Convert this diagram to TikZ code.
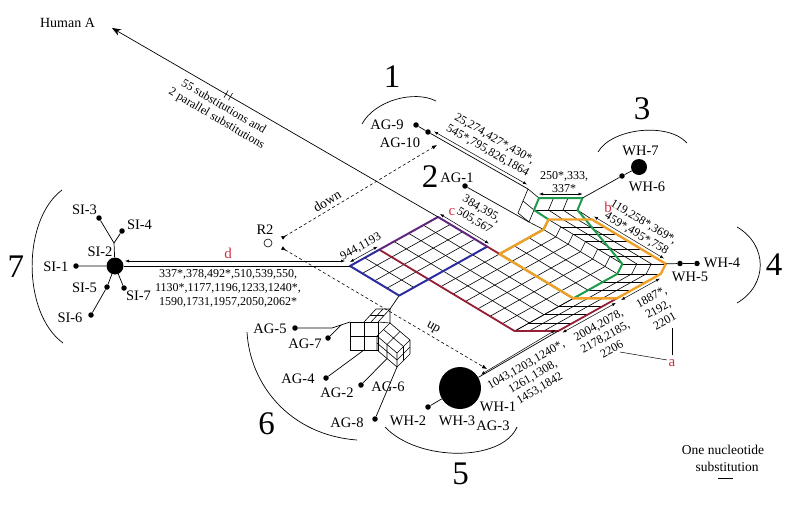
\documentclass[tikz,border=0pt]{standalone}
\usepackage{fontspec}
\setmainfont{Liberation Serif}
\usetikzlibrary{arrows.meta,calc}
\definecolor{netblue}{RGB}{45,45,160}
\definecolor{netpurple}{RGB}{95,40,125}
\definecolor{netred}{RGB}{150,30,55}
\definecolor{netorange}{RGB}{240,160,40}
\definecolor{netgreen}{RGB}{30,155,75}
\definecolor{lblred}{RGB}{205,45,65}
\begin{document}
\begin{tikzpicture}[x=1pt,y=-1pt,
  meshline/.style={line width=0.6pt},
  netedge/.style={line width=0.7pt},
  sdot/.style={circle,fill=black,inner sep=0pt,minimum size=5.5pt},
  lbl/.style={inner sep=0pt,font=\fontsize{14.5}{16}\selectfont},
  nums/.style={inner sep=0pt,align=center,font=\fontsize{12}{13.6}\selectfont},
  bignum/.style={inner sep=0pt,font=\fontsize{33}{36}\selectfont},
  redlbl/.style={inner sep=0pt,text=lblred,font=\fontsize{15}{16}\selectfont},
  subarrow/.style={line width=0.5pt,{Latex[length=4pt,width=3pt]}-{Latex[length=4pt,width=3pt]}},
  grouparc/.style={line width=0.7pt},
  dasharrow/.style={dash pattern=on 3pt off 2.5pt,line width=0.6pt,{Latex[reversed,length=5pt,width=4pt]}-{Latex[length=5pt,width=4pt]}}
]
\useasboundingbox (0,0) rectangle (800,516);

% ---------- key coordinates of the main mesh ----------
\coordinate (L) at (350,266);
\coordinate (U2) at (379.34,249.66);
\coordinate (T) at (438.02,216.98);
\coordinate (B) at (399.2,295.6);
\coordinate (R) at (487.22,246.58);
\coordinate (O1) at (499.52,253.98);
\coordinate (O2) at (543.53,229.47);
\coordinate (O3) at (548.53,219.47);
\coordinate (O4) at (592.03,219.47);
\coordinate (O5) at (665.83,263.87);
\coordinate (O6) at (660.83,273.87);
\coordinate (O7) at (616.82,298.38);
\coordinate (O8) at (573.32,298.38);
\coordinate (A) at (514.64,331.06);
\coordinate (Ah) at (558.14,331.06);
\coordinate (G5) at (622.33,263.87);
\coordinate (G6) at (617.33,273.87);
\coordinate (A0) at (528,189);
\coordinate (TL) at (539,198);
\coordinate (TR) at (582.5,198);
\coordinate (C) at (534,210);
\coordinate (D1) at (577.5,210);
\coordinate (D0) at (523,201);
\coordinate (E) at (529,222);
\coordinate (F) at (518,213);

% ---------- mesh lines ----------
\foreach \i in {0,...,6} {\draw[meshline] ({350+14.67*\i},{266-8.17*\i}) -- ++(49.2,29.6);}
\foreach \j in {0,...,4} {\draw[meshline] ({350+12.3*\j},{266+7.4*\j}) -- ++(88.02,-49.02);}
\foreach \i in {2,...,6} {\draw[meshline] ({399.2+14.67*\i},{295.6-8.17*\i}) -- ++(86.1,51.8);}
\foreach \j in {5,...,11} {\draw[meshline] ({379.34+12.3*\j},{249.66+7.4*\j}) -- ++(102.69,-57.19);}
\foreach \i in {6,...,9} {\draw[meshline] ({411.5+14.67*\i},{303-8.17*\i}) -- ++(73.8,44.4);}
\foreach \c in {0,...,6} {\draw[meshline] ({543.53+12.3*\c},{229.47+7.4*\c}) -- ++(5,-10);}
\foreach \b in {0,...,3} {\draw[meshline] ({548.53+14.5*\b},219.47) -- ++(73.8,44.4);}
\foreach \c in {0,...,6} {\draw[meshline] ({548.53+12.3*\c},{219.47+7.4*\c}) -- ++(43.5,0);}
\foreach \a in {0,...,7} {\draw[meshline] ({514.64+14.67*\a},{331.06-8.17*\a}) -- ++(43.5,0);}
\foreach \b in {0,...,3} {\draw[meshline] ({514.64+14.5*\b},331.06) -- ++(102.69,-57.19);}
\foreach \b in {0,...,3} {\draw[meshline] ({617.33+14.5*\b},273.87) -- ++(5,-10);}
\draw[meshline] (A0) -- (TL) -- (C) -- (D0) -- cycle;
\draw[meshline] (D0) -- (F) -- (E) -- (C);
\draw[meshline] (E) -- (O2);
\draw[meshline] (TL) -- (TR) (C) -- (D1);
\foreach \b in {0,...,3} {\draw[meshline] ({539+14.5*\b},198) -- ++(-5,12);}
\foreach \b in {0,...,3} {\draw[meshline] ({534+14.5*\b},210) -- ++(14.53,9.47);}

% ---------- coloured outlines ----------
\draw[netgreen,line width=2pt,line join=round] (TL) -- (TR) -- (D1) -- (G5) -- (G6) -- (O8) -- (O1) -- (O2) -- (O3) -- (C) -- cycle;
\draw[netred,line width=1.8pt,line join=round] (U2) -- (A) -- (Ah) -- (O7);
\draw[netred,line width=1.8pt] (R) -- (O1);
\draw[netblue,line width=2pt,line join=round] (U2) -- (L) -- (B) -- (R);
\draw[netpurple,line width=2pt,line join=round] (U2) -- (T) -- (R);
\draw[netorange,line width=2.4pt,line join=round] (O1) -- (O2) -- (O3) -- (O4) -- (O5) -- (O6) -- (O7) -- (O8) -- cycle;

% ---------- AG cluster mesh (group 6) ----------
\coordinate (agtop) at (390,309);
\coordinate (agL) at (350,322);
\coordinate (agm) at (364,350);
\coordinate (agK) at (397,367);
\coordinate (agf) at (387,358.5);
\coordinate (ag7c) at (341,325);
\coordinate (ag5c) at (332,328);
\draw[meshline] (350,322) rectangle (378,350);
\draw[meshline] (364,322) -- (364,350) (350,336) -- (378,336);
\draw[meshline] (364,322) -- (376,309) -- (390,309) -- (378,322);
\draw[meshline] (371,322) -- (383,309) (370,315.5) -- (384,315.5);
\draw[meshline] (390,309) -- (390,323) (378,322) -- (390,323);
\draw[meshline] (390,323) -- (410,340) -- (410,354) -- (397,367) -- (377,350) -- (377,336) -- cycle;
\draw[meshline] (377,336) -- (397,353) -- (410,340) (397,353) -- (397,367);
\draw[meshline] (400,331.5) -- (387,344.5) -- (387,358.5) (383.5,329.5) -- (403.5,346.5) -- (403.5,360.5) (410,347) -- (397,360) -- (377,343);
\draw[netedge] (B) -- (agtop);

% ---------- nodes ----------
\node[sdot] (ag9) at (416,125) {};
\node[sdot] (ag10) at (428,132) {};
\node[sdot] (ag1) at (465,186) {};
\node[sdot] (wh6) at (622,176) {};
\node[circle,fill=black,inner sep=0pt,minimum size=16pt] (wh7) at (639,167) {};
\node[sdot] (wh5) at (680,263.5) {};
\node[sdot] (wh4) at (697,263.5) {};
\node[circle,fill=black,inner sep=0pt,minimum size=17pt] (si2) at (115,266) {};
\node[sdot] (si1) at (76,266) {};
\node[sdot] (si3) at (99,218) {};
\node[sdot] (si4) at (122,231) {};
\node[sdot] (si5) at (107,287) {};
\node[sdot] (si6) at (91,315) {};
\node[sdot] (si7) at (124,288) {};
\coordinate (sij) at (114,243);
\node[sdot] (ag5) at (295,328) {};
\node[sdot] (ag7) at (328,338) {};
\node[sdot] (ag4) at (326,378) {};
\node[sdot] (ag2) at (361,385) {};
\node[sdot] (ag8) at (375,419) {};
\node[sdot] (wh2) at (428,407) {};
\node[circle,fill=black,inner sep=0pt,minimum size=42pt] (wh1) at (460,388) {};
\node[circle,draw,fill=white,inner sep=0pt,minimum size=8pt,line width=0.6pt] (r2) at (268,243) {};
\coordinate (HA) at (112,28);

% ---------- edges ----------
\draw[netedge,-{Stealth[length=9pt,width=7pt]}] (T) -- (HA);
\draw[netedge] (ag9) -- (ag10) -- (A0);
\draw[netedge] (ag1) -- (E);
\draw[netedge] (TR) -- (wh6) -- (wh7);
\draw[netedge] (O5) -- (wh5) -- (wh4);
\draw[netedge] (si2) -- (L);
\draw[netedge] (si1) -- (si2) -- (si7);
\draw[netedge] (si2) -- (si5) -- (si6);
\draw[netedge] (si2) -- (sij) -- (si3);
\draw[netedge] (sij) -- (si4);
\draw[netedge] (ag5) -- (ag5c) -- (agL);
\draw[netedge] (ag7) -- (ag7c);
\draw[netedge] (ag4) -- (agm);
\draw[netedge] (ag2) -- (agf);
\draw[netedge] (ag8) -- (agK);
\draw[netedge] (wh2) -- (wh1);
\draw[netedge] (wh1) -- (Ah);

% dashed arrows
\coordinate (dn1) at (282,238);
\coordinate (dn2) at (437,145);
\coordinate (up1) at (282,248);
\coordinate (up2) at (487,369);
\draw[dasharrow] (dn1) -- (dn2);
\draw[dasharrow] (up1) -- (up2);

% substitution arrows
\coordinate (sa1) at (434,131.5); \coordinate (sa2) at (527,184.5);
\draw[subarrow] (sa1) -- (sa2);
\coordinate (sb1) at (539,194); \coordinate (sb2) at (582.5,194);
\draw[subarrow] (sb1) -- (sb2);
\coordinate (sc1) at (594,216.5); \coordinate (sc2) at (664,258.5);
\draw[subarrow] (sc1) -- (sc2);
\coordinate (sd1) at (440,214); \coordinate (sd2) at (489,243.6);
\draw[subarrow] (sd1) -- (sd2);
\coordinate (se1) at (350,262); \coordinate (se2) at (377.6,246.6);
\draw[subarrow] (se1) -- (se2);
\coordinate (sf1) at (125,261); \coordinate (sf2) at (345,261);
\draw[subarrow] (sf1) -- (sf2);
\coordinate (sg1) at (481,374.5); \coordinate (sg2) at (555.5,330);
\draw[subarrow] (sg1) -- (sg2);
\coordinate (sh1) at (562.4,332.6); \coordinate (sh2) at (615.9,302.9);
\draw[subarrow] (sh1) -- (sh2);
\coordinate (si1a) at (621.1,300); \coordinate (si1b) at (659.9,278.5);
\draw[subarrow] (si1a) -- (si1b);

% break mark on Human A line
\draw[line width=0.6pt] (224,97.6) -- (228,90.6) (228.5,100.2) -- (232.5,93.2);

% a pointers
\coordinate (pa1) at (620,352);
\coordinate (pa2) at (672,328);
\coordinate (pa3) at (667,360);
\coordinate (pa4) at (672,355);
\draw[line width=0.5pt] (pa1) -- (pa3);
\draw[line width=0.5pt] (pa2) -- (pa4);

% ---------- group arcs ----------
\draw[grouparc] (362,124) .. controls (375,100) and (415,90) .. (436,101);
\draw[grouparc] (598,152) .. controls (612,128) and (668,122) .. (687,143);
\draw[grouparc] (737,227) .. controls (768,245) and (768,285) .. (737,303);
\draw[grouparc] (385,427) .. controls (418,462) and (502,462) .. (517,427);
\draw[grouparc] (247,332) .. controls (250,385) and (290,435) .. (357,440);
\draw[grouparc] (62,190) .. controls (22,220) and (22,313) .. (63,343);

% scale bar
\coordinate (sc1a) at (718,478); \coordinate (sc1b) at (733,478);
\draw[line width=0.8pt] (sc1a) -- (sc1b);

% ---------- labels ----------
\node[lbl,font=\fontsize{14}{16}\selectfont] at (67.5,22.5) {Human A};
\node[nums,rotate=-30.4] at (220,113) {55 substitutions and\\2 parallel substitutions};
\node[lbl] at (387,125) {AG-9};
\node[lbl] at (400,143) {AG-10};
\node[nums,rotate=-29.7] at (491,145) {25,274,427*,430*,\\545*,795,826,1864};
\node[lbl] at (457,178) {AG-1};
\node[nums] at (564,182) {250*,333,\\337*};
\node[lbl] at (640.5,151) {WH-7};
\node[lbl] at (647,187) {WH-6};
\node[nums,rotate=-31] at (640,228) {119,258*,369*,\\459*,495*,758};
\node[lbl] at (722,262.5) {WH-4};
\node[lbl] at (690,277) {WH-5};
\node[nums,rotate=29] at (658,309) {1887*,\\2192,\\2201};
\node[nums,rotate=29] at (605,337) {2004,2078,\\2178,2185,\\2206};
\node[nums,rotate=30] at (533,377) {1043,1203,1240*,\\1261,1308,\\1453,1842};
\node[nums,rotate=-31] at (478,215) {384,395,\\505,567};
\node[nums,rotate=29] at (361,247) {944,1193};
\node[nums] at (228,288.5) {337*,378,492*,510,539,550,\\1130*,1177,1196,1233,1240*,\\1590,1731,1957,2050,2062*};
\node[lbl,font=\fontsize{13.5}{15}\selectfont,rotate=31] at (327,201) {down};
\node[lbl,font=\fontsize{13.5}{15}\selectfont,rotate=-30] at (433,328) {up};
\node[lbl] at (265,230) {R2};
\node[redlbl] at (672,363) {a};
\node[redlbl] at (608,207) {b};
\node[redlbl] at (452,212) {c};
\node[redlbl] at (228,253) {d};
\node[lbl] at (84.5,210) {SI-3};
\node[lbl] at (139.5,225) {SI-4};
\node[lbl] at (100,252) {SI-2};
\node[lbl] at (55.8,267) {SI-1};
\node[lbl] at (84.5,288) {SI-5};
\node[lbl] at (138.5,295.5) {SI-7};
\node[lbl] at (70,318) {SI-6};
\node[lbl] at (270,329) {AG-5};
\node[lbl] at (305,344) {AG-7};
\node[lbl] at (298,379) {AG-4};
\node[lbl] at (337,393) {AG-2};
\node[lbl] at (388,387) {AG-6};
\node[lbl] at (347,423) {AG-8};
\node[lbl] at (408,421) {WH-2};
\node[lbl] at (457,421) {WH-3};
\node[lbl] at (498,407) {WH-1};
\node[lbl] at (493,426) {AG-3};
\node[lbl,font=\fontsize{13.5}{15}\selectfont] at (723,450) {One nucleotide};
\node[lbl,font=\fontsize{13.5}{15}\selectfont] at (727,467) {substitution};
\node[bignum] at (392,77) {1};
\node[bignum] at (430,177) {2};
\node[bignum] at (642,109) {3};
\node[bignum] at (774,265) {4};
\node[bignum] at (460.5,474) {5};
\node[bignum] at (266.5,424) {6};
\node[bignum] at (16,267) {7};
\end{tikzpicture}
\end{document}
